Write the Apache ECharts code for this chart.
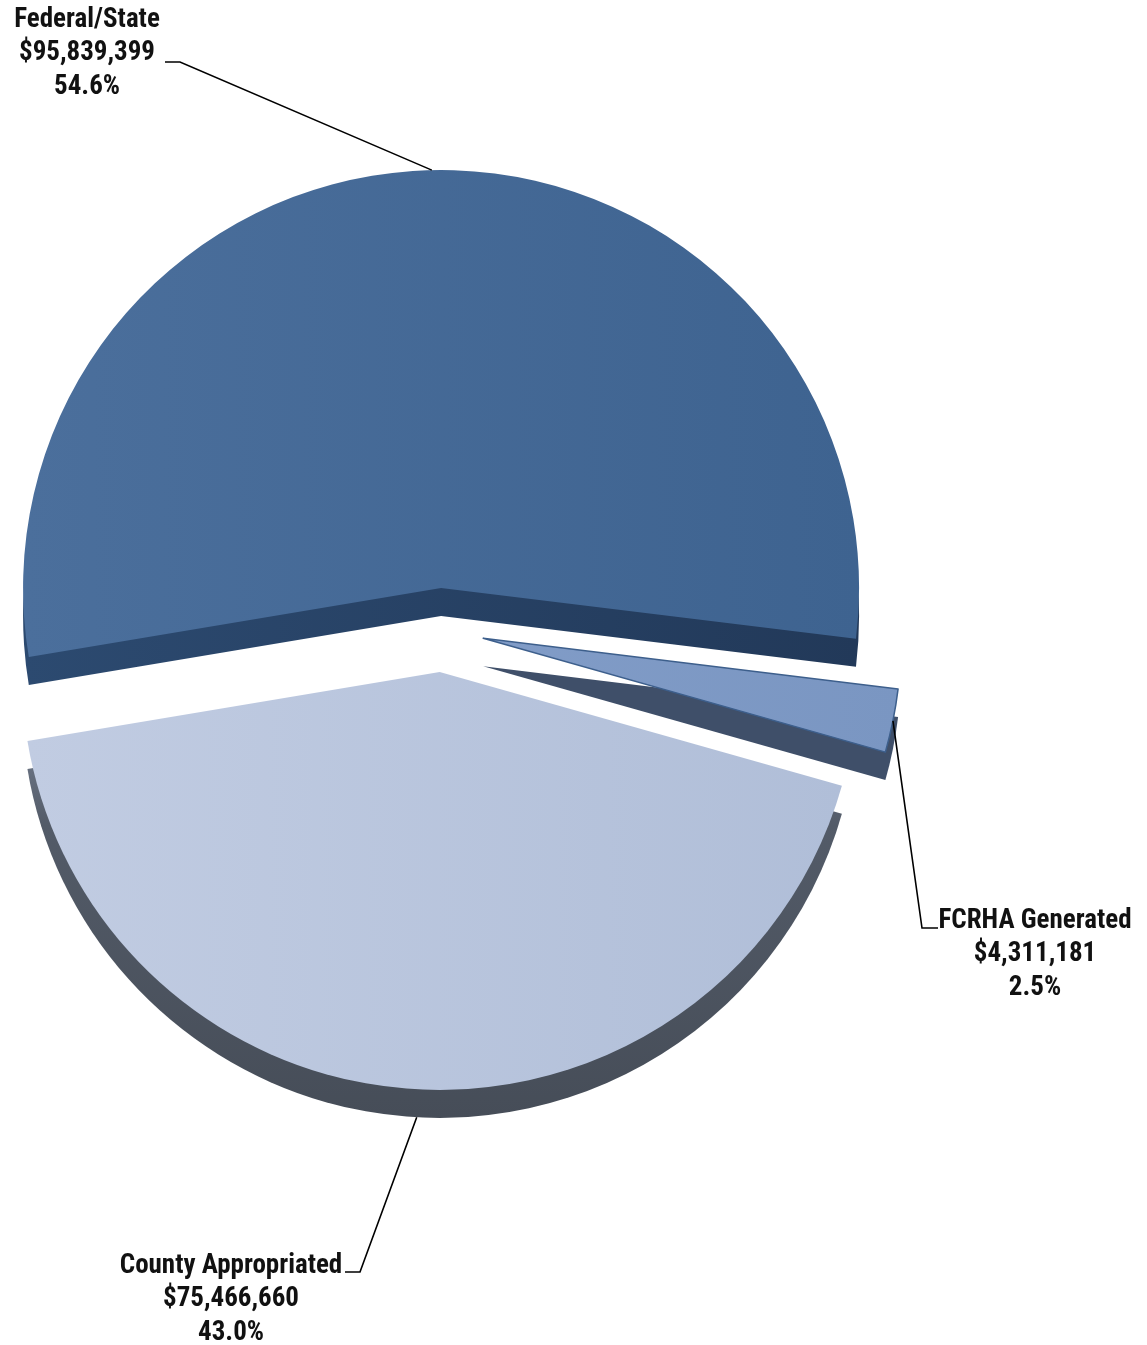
<!DOCTYPE html>
<html>
<head>
<meta charset="utf-8">
<script src="https://cdn.jsdelivr.net/npm/echarts@6/dist/echarts.min.js"></script>
<style>
  html, body { margin: 0; padding: 0; background: #ffffff; }
  #chart { width: 1147px; height: 1345px; }
</style>
</head>
<body>
<div id="chart"></div>
<script>
// ---- data ----
var categories = ['Federal/State', 'FCRHA Generated', 'County Appropriated'];
var values = [95839399, 4311181, 75466660];

// ---- styles ----
var FONT = "'Roboto Condensed', 'Open Sans', sans-serif";
function hGrad(a, b) {
  return { type: 'linear', x: 0, y: 0, x2: 1, y2: 0, colorStops: [{ offset: 0, color: a }, { offset: 1, color: b }] };
}
var topColors = [
  hGrad('#4b6f9c', '#3e6390'),
  hGrad('#819cc7', '#7a96c2'),
  hGrad('#c1cce2', '#b0bed8')
];
var sideColors = [
  hGrad('#2c4a70', '#223959'),
  '#3f4f69',
  { type: 'linear', x: 0, y: 0, x2: 0, y2: 1, colorStops: [
    { offset: 0, color: '#7e889a' }, { offset: 0.3, color: '#535b68' }, { offset: 1, color: '#464d58' }] }
];
var topBorders = [null, '#3d5f8c', null];
var CX = 442, CY = 630, R = 418, DEPTH = 28, OFFSET = 42;
var total = values.reduce(function (a, b) { return a + b; }, 0);

// label annotation placement
var labelPlace = [
  { x: 87, y: 3, bend: [180, 62], end: [165, 62], dy: 0 },
  { x: 1035, y: 904, bend: [922, 928], end: [938, 928], dy: 0 },
  { x: 231, y: 1249, bend: [360, 1272], end: [345, 1272], dy: DEPTH }
];

function fmtMoney(v) { return '$' + v.toLocaleString('en-US'); }

function sliceData(colors, sel, borders) {
  return categories.map(function (c, i) {
    var st = { color: colors[i] };
    if (borders && borders[i]) { st.borderColor = borders[i]; st.borderWidth = 1.5; }
    return { name: c, value: values[i], selected: sel, itemStyle: st };
  });
}
function pieBase(extra) {
  var o = {
    type: 'pie',
    silent: true,
    radius: [0, R],
    startAngle: 189.5,
    clockwise: true,
    selectedMode: 'multiple',
    selectedOffset: OFFSET,
    avoidLabelOverlap: false,
    emphasis: { disabled: true },
    itemStyle: { borderWidth: 0 },
    label: { show: false },
    labelLine: { show: false }
  };
  for (var k in extra) o[k] = extra[k];
  return o;
}

var chart = echarts.init(document.getElementById('chart'), null, { renderer: 'canvas' });
chart.setOption({
  backgroundColor: '#ffffff',
  animation: false,
  series: [
    pieBase({ name: 'side', z: 1, center: [CX, CY + DEPTH], data: sliceData(sideColors, true) }),
    pieBase({ name: 'top', z: 2, center: [CX, CY], data: sliceData(topColors, true, topBorders) }),
    pieBase({
      name: 'labels', z: 3, center: [CX, CY],
      data: sliceData(['rgba(0,0,0,0)', 'rgba(0,0,0,0)', 'rgba(0,0,0,0)'], false),
      label: {
        show: true,
        position: 'outside',
        formatter: function (p) {
          return p.name + '\n' + fmtMoney(p.value) + '\n' + (p.value / total * 100).toFixed(1) + '%';
        },
        fontFamily: FONT,
        fontSize: 27,
        fontWeight: 'bold',
        lineHeight: 33.5,
        color: '#111111',
        align: 'center'
      },
      labelLine: { show: true, length: 20, length2: 15, lineStyle: { color: '#000000', width: 1.6 } },
      labelLayout: function (params) {
        var lp = labelPlace[params.dataIndex];
        var p0 = params.labelLinePoints[0];
        var dx = p0[0] - CX, dy = p0[1] - CY, len = Math.sqrt(dx * dx + dy * dy) || 1;
        var a = [p0[0] + dx / len * OFFSET, p0[1] + dy / len * OFFSET + lp.dy];
        return {
          x: lp.x, y: lp.y, align: 'center', verticalAlign: 'top',
          labelLinePoints: [a, lp.bend, lp.end]
        };
      }
    })
  ]
});
</script>
</body>
</html>
